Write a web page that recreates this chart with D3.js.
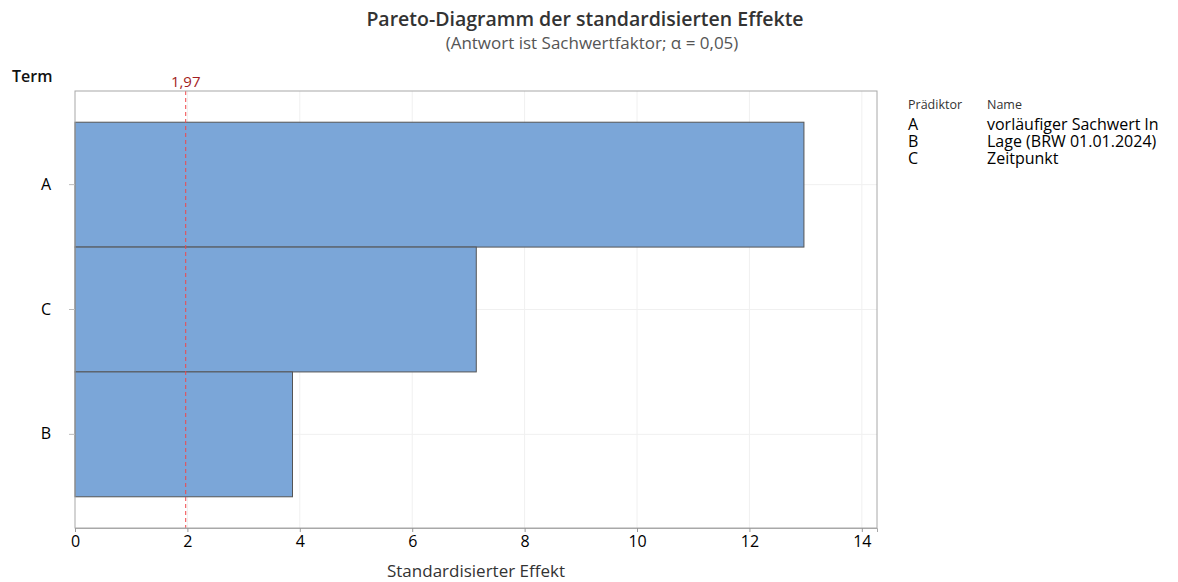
<!DOCTYPE html>
<html>
<head>
<meta charset="utf-8">
<script src="https://cdn.jsdelivr.net/npm/d3@7"></script>
<style>
  body { margin: 0; background: #fff; }
  text { font-family: "Open Sans", "Noto Sans", sans-serif; }
</style>
</head>
<body>
<div id="chart"></div>
<script>
// data
var terms = ["A", "C", "B"];
var effects = [12.97, 7.14, 3.87];
var xTicks = [0, 2, 4, 6, 8, 10, 12, 14];
var critValue = 1.97;
var critLabel = "1,97";
var legendKeys = ["A", "B", "C"];
var legendNames = ["vorläufiger Sachwert ln", "Lage (BRW 01.01.2024)", "Zeitpunkt"];

var W = 1178, H = 582;
var margin = {left: 75, right: 301, top: 91, bottom: 54};
var width = W - margin.left - margin.right;
var height = H - margin.top - margin.bottom;

var svg = d3.select("#chart").append("svg")
    .attr("width", W)
    .attr("height", H);

var x = d3.scaleLinear().domain([0, 14.27]).range([0, width]);
var y = d3.scaleBand().domain(terms).range([0, height]).paddingOuter(0.25).paddingInner(0);

var g = svg.append("g")
    .attr("transform", "translate(" + margin.left + "," + margin.top + ")");

// grid
g.selectAll(".vgrid")
    .data(xTicks.filter(function(d) { return d > 0; }))
    .enter().append("line")
    .attr("x1", function(d) { return x(d); })
    .attr("x2", function(d) { return x(d); })
    .attr("y1", 0).attr("y2", height)
    .attr("stroke", "#f0f0f0");

g.selectAll(".hgrid")
    .data(terms)
    .enter().append("line")
    .attr("x1", 0).attr("x2", width)
    .attr("y1", function(d) { return y(d) + y.bandwidth() / 2; })
    .attr("y2", function(d) { return y(d) + y.bandwidth() / 2; })
    .attr("stroke", "#f0f0f0");

// bars
g.selectAll(".bar")
    .data(terms)
    .enter().append("rect")
    .attr("x", 0)
    .attr("y", function(d) { return y(d); })
    .attr("width", function(d, i) { return x(effects[i]); })
    .attr("height", y.bandwidth())
    .attr("fill", "#7ba6d8")
    .attr("stroke", "#555")
    .attr("stroke-width", 1);

// reference line
g.append("line")
    .attr("x1", x(critValue)).attr("x2", x(critValue))
    .attr("y1", 0).attr("y2", height)
    .attr("stroke", "#f0474a")
    .attr("stroke-dasharray", "4,3");

g.append("text")
    .attr("x", x(critValue))
    .attr("y", -4)
    .attr("text-anchor", "middle")
    .attr("fill", "#a31d22")
    .style("font-size", "15px")
    .text(critLabel);

// frame
g.append("rect")
    .attr("width", width).attr("height", height)
    .attr("fill", "none")
    .attr("stroke", "#a8a8a8");

// axes
var xAxis = d3.axisBottom(x).tickValues(xTicks).tickSize(4).tickPadding(4);
var xg = g.append("g")
    .attr("transform", "translate(0," + height + ")")
    .call(xAxis);
xg.select(".domain").attr("stroke", "#a8a8a8");
xg.selectAll(".tick line").attr("stroke", "#999");
xg.selectAll(".tick text").style("font-size", "16px").attr("fill", "#000");

var yAxis = d3.axisLeft(y).tickSize(6).tickPadding(18);
var yg = g.append("g").call(yAxis);
yg.select(".domain").remove();
yg.selectAll(".tick line").attr("stroke", "#bbb");
yg.selectAll(".tick text").style("font-size", "16px").attr("fill", "#000");

// labels
svg.append("text")
    .attr("x", margin.left + width / 2)
    .attr("y", 577)
    .attr("text-anchor", "middle")
    .attr("fill", "#333")
    .style("font-size", "17px")
    .text("Standardisierter Effekt");

svg.append("text")
    .attr("x", 12).attr("y", 82)
    .attr("fill", "#111")
    .style("font-size", "16px")
    .style("font-weight", "600")
    .text("Term");

svg.append("text")
    .attr("x", 585).attr("y", 26)
    .attr("text-anchor", "middle")
    .attr("fill", "#333")
    .style("font-size", "19.5px")
    .style("font-weight", "600")
    .text("Pareto-Diagramm der standardisierten Effekte");

svg.append("text")
    .attr("x", 592).attr("y", 49)
    .attr("text-anchor", "middle")
    .attr("fill", "#555")
    .style("font-size", "17px")
    .text("(Antwort ist Sachwertfaktor; α = 0,05)");

// legend
var lg = svg.append("g").attr("transform", "translate(908,0)");
lg.append("text").attr("x", 0).attr("y", 109).style("font-size", "12.5px").attr("fill", "#333").text("Prädiktor");
lg.append("text").attr("x", 79).attr("y", 109).style("font-size", "12.5px").attr("fill", "#333").text("Name");

var keyText = lg.append("text")
    .attr("y", 130)
    .style("font-size", "16px").attr("fill", "#000");
keyText.selectAll("tspan")
    .data(legendKeys)
    .enter().append("tspan")
    .attr("x", 0)
    .attr("dy", function(d, i) { return i === 0 ? 0 : 17; })
    .text(function(d) { return d; });

var nameText = lg.append("text")
    .attr("y", 130)
    .style("font-size", "16px").attr("fill", "#000");
nameText.selectAll("tspan")
    .data(legendNames)
    .enter().append("tspan")
    .attr("x", 79)
    .attr("dy", function(d, i) { return i === 0 ? 0 : 17; })
    .text(function(d) { return d; });
</script>
</body>
</html>
